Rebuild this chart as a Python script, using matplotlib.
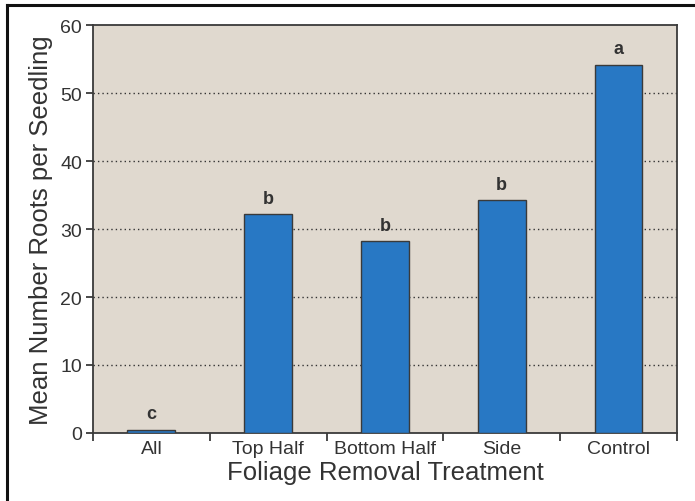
import numpy as np
import matplotlib
matplotlib.use("Agg")
import matplotlib.pyplot as plt
from matplotlib.lines import Line2D

plt.rcParams['font.family'] = ['Liberation Sans', 'DejaVu Sans']

########################################
#   Data
########################################

treatments = ["All", "Top Half", "Bottom Half", "Side", "Control"]
meanRoots = [0.5, 32.2, 28.2, 34.2, 54.2]
groups = ["c", "b", "b", "b", "a"]
yticks = [0, 10, 20, 30, 40, 50, 60]

textColor = "#333333"
bgColor = "#e0d9cf"
barColor = "#2878c4"
edgeColor = "#3a3a3a"

########################################
#   Plot
########################################

fig = plt.figure(figsize=(6.95, 5.02), dpi=100)
ax = fig.add_axes([0.1338, 0.1355, 0.8402, 0.8125])
ax.set_facecolor(bgColor)

x = np.arange(len(treatments))
ax.bar(x, meanRoots, width=0.41, color=barColor, edgecolor=edgeColor, linewidth=1.0, zorder=3)

for i in range(len(x)):
    ax.text(x[i], meanRoots[i] + 1.1, groups[i], ha='center', va='bottom',
            fontsize=13, fontweight='bold', color=textColor, zorder=4)

ax.set_xlim(-0.5, len(treatments) - 0.5)
ax.set_ylim(0, 60)
ax.set_yticks(yticks)
ax.set_yticklabels([str(v) for v in yticks], fontsize=14, color=textColor)
ax.set_xticks(x)
ax.set_xticklabels(treatments, fontsize=14, color=textColor)
ax.set_xticks(np.arange(len(treatments) + 1) - 0.5, minor=True)

ax.tick_params(axis='x', which='major', length=0, pad=5)
ax.tick_params(axis='x', which='minor', length=6, width=1.3, color=edgeColor, direction='out')
ax.tick_params(axis='y', length=5, width=1.3, color=edgeColor, direction='out', pad=3)

for v in yticks[1:-1]:
    ax.axhline(v, color="#333333", linestyle=(0, (1, 2.2)), linewidth=1.0, zorder=1)

for s in ax.spines.values():
    s.set_color(edgeColor)
    s.set_linewidth(1.3)

ax.set_xlabel("Foliage Removal Treatment", fontsize=18.5, color=textColor, labelpad=2)
ax.set_ylabel("Mean Number Roots per Seedling", fontsize=18.5, color=textColor, labelpad=5)

# outer frame (top and left edges only)
fig.add_artist(Line2D([7 / 695, 1.0], [1 - 6 / 502, 1 - 6 / 502], color="#111111", linewidth=2.2))
fig.add_artist(Line2D([7 / 695, 7 / 695], [0.0, 1 - 6 / 502], color="#111111", linewidth=2.2))

plt.savefig("out.png", dpi=100)
